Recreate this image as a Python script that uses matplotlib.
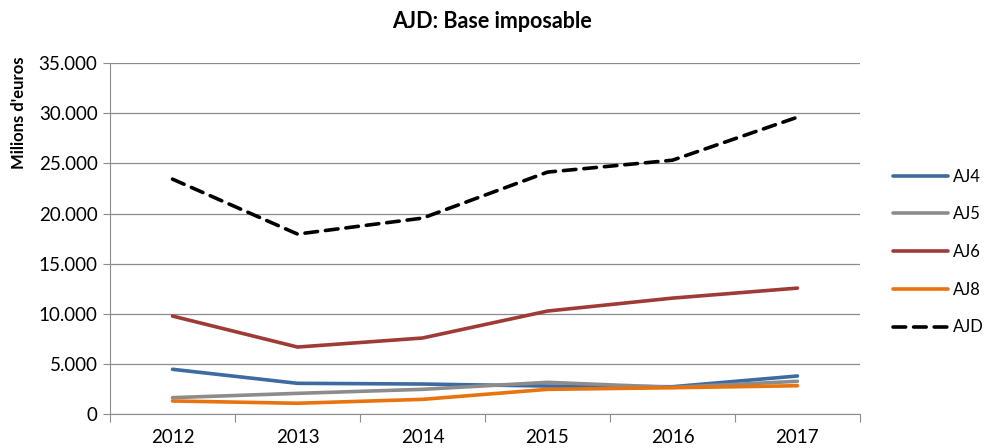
import matplotlib
matplotlib.use("Agg")
import matplotlib.pyplot as plt
from matplotlib.ticker import FuncFormatter

years = ["2012", "2013", "2014", "2015", "2016", "2017"]
aj4 = [4460, 3060, 2990, 2790, 2720, 3790]
aj5 = [1630, 2060, 2460, 3160, 2660, 3260]
aj6 = [9770, 6680, 7580, 10270, 11560, 12560]
aj8 = [1300, 1070, 1460, 2460, 2620, 2820]
ajd = [23430, 17950, 19540, 24130, 25320, 29610]

plt.rcParams["font.family"] = ["Lato", "DejaVu Sans"]

fig = plt.figure(figsize=(9.85, 4.48), dpi=100)
ax = fig.add_axes([0.1117, 0.0759, 0.873 - 0.1117, 0.859 - 0.0759])

x = range(len(years))
lw = 2.6
ax.plot(x, aj4, color="#3d6aa0", lw=lw, label="AJ4", solid_capstyle="round")
ax.plot(x, aj5, color="#8c8c8c", lw=lw, label="AJ5", solid_capstyle="round")
ax.plot(x, aj6, color="#a03a36", lw=lw, label="AJ6", solid_capstyle="round")
ax.plot(x, aj8, color="#e8730f", lw=lw, label="AJ8", solid_capstyle="round")
ax.plot(x, ajd, color="black", lw=lw, ls=(0, (3.5, 2.2)), label="AJD",
        dash_capstyle="round")

ax.set_xlim(-0.5, len(years) - 0.5)
ax.set_ylim(0, 35000)
ax.set_yticks(range(0, 35001, 5000))
ax.yaxis.set_major_formatter(
    FuncFormatter(lambda v, p: "0" if v == 0 else f"{int(v):,}".replace(",", ".")))
ax.grid(axis="y", color="#8c8c8c", lw=0.9)
ax.set_axisbelow(True)

# category axis: ticks between categories, labels centred
ax.set_xticks([i - 0.5 for i in range(len(years) + 1)])
ax.set_xticklabels([])
ax.set_xticks(list(x), minor=True)
ax.set_xticklabels(years, minor=True)
ax.tick_params(axis="x", which="major", length=6, color="#8c8c8c", direction="out")
ax.tick_params(axis="x", which="minor", length=0, labelsize=13.5, pad=11)
ax.tick_params(axis="y", length=5, color="#8c8c8c", labelsize=13.5, pad=4)

for s in ["top", "right"]:
    ax.spines[s].set_visible(False)
ax.spines["left"].set_color("#8c8c8c")
ax.spines["bottom"].set_color("#8c8c8c")

fig.text(0.4995, 0.953, "AJD: Base imposable", ha="center", va="center",
         fontsize=15.5, fontweight="bold")
fig.text(0.019, 1 - 113 / 448, "Milions d'euros", ha="center", va="center",
         rotation=90, fontsize=12, fontweight="bold")

fig.legend(loc="center left", bbox_to_anchor=(893 / 985, 1 - 252 / 448),
           frameon=False, borderpad=0, borderaxespad=0, handlelength=3.3,
           handletextpad=0.3, labelspacing=1.3, fontsize=12)

fig.savefig("out.png", dpi=100)
